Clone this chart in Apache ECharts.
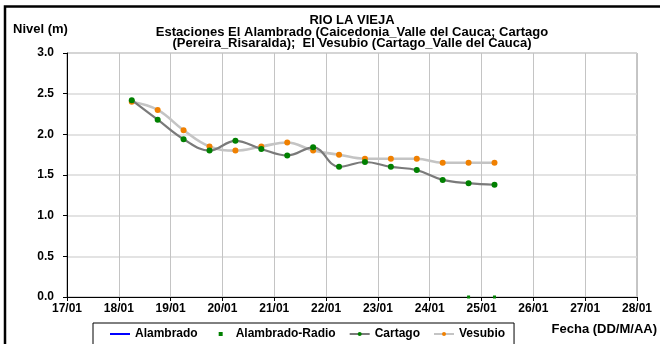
<!DOCTYPE html>
<html>
<head>
<meta charset="utf-8">
<script src="https://cdn.jsdelivr.net/npm/echarts@6/dist/echarts.min.js"></script>
<style>
  html, body { margin: 0; padding: 0; background: #fff; }
  #chart { width: 660px; height: 344px; }
</style>
</head>
<body>
<div id="chart"></div>
<script>
// fechas de las lecturas (DD/MM hh:mm)
const fechas = ['18/01 06:00', '18/01 18:00', '19/01 06:00', '19/01 18:00', '20/01 06:00',
  '20/01 18:00', '21/01 06:00', '21/01 18:00', '22/01 06:00', '22/01 18:00',
  '23/01 06:00', '23/01 18:00', '24/01 06:00', '24/01 18:00', '25/01 06:00'];
const cartago = [2.42, 2.18, 1.94, 1.80, 1.92, 1.82, 1.74, 1.84, 1.60, 1.66, 1.60, 1.56, 1.44, 1.40, 1.38];
const vesubio = [2.40, 2.30, 2.05, 1.85, 1.80, 1.85, 1.90, 1.80, 1.75, 1.70, 1.70, 1.70, 1.65, 1.65, 1.65];
const fechasRadio = ['24/01 18:00', '25/01 06:00'];
const alambradoRadio = [0, 0];
const alambrado = [];
const nivelTicks = [0, 0.5, 1, 1.5, 2, 2.5, 3];

const FONT = '"Liberation Sans", Arial, sans-serif';

// '18/01 06:00' -> 18.25 (dia del mes con fraccion)
function aDia(f) {
  const [d, h] = f.split(' ');
  const [hh, mm] = h.split(':').map(Number);
  return parseInt(d.split('/')[0], 10) + (hh + mm / 60) / 24;
}
function pares(fs, vs) {
  return fs.map((f, i) => [aDia(f), vs[i]]);
}

const chart = echarts.init(document.getElementById('chart'), null, { renderer: 'canvas' });

const options = {
  animation: false,
  backgroundColor: '#fff',
  textStyle: { fontFamily: FONT },
  grid: {
    left: 67, right: 23, top: 53, bottom: 47,
    show: true, borderColor: '#8c8c8c', borderWidth: 1
  },
  xAxis: {
    type: 'value', min: 17, max: 28, interval: 1,
    axisLine: { show: true, onZero: false, lineStyle: { color: '#000', width: 1 } },
    axisTick: { show: true, length: 4, lineStyle: { color: '#000' } },
    axisLabel: {
      color: '#000', fontWeight: 'bold', fontSize: 12, fontFamily: FONT, margin: 6,
      formatter: v => String(v).padStart(2, '0') + '/01'
    },
    splitLine: { show: true, lineStyle: { color: '#c4c4c4', width: 1 } }
  },
  yAxis: {
    type: 'value', min: nivelTicks[0], max: nivelTicks[nivelTicks.length - 1], interval: 0.5,
    axisLine: { show: true, lineStyle: { color: '#000', width: 1 } },
    axisTick: { show: true, length: 4, lineStyle: { color: '#000' } },
    axisLabel: {
      color: '#000', fontWeight: 'bold', fontSize: 12, fontFamily: FONT, margin: 13,
      formatter: v => v.toFixed(1)
    },
    splitLine: { show: true, lineStyle: { color: '#dadada', width: 1.5 } }
  },
  legend: {
    left: 93, top: 323,
    padding: [5, 9, 5, 16],
    itemGap: 13, itemWidth: 20, itemHeight: 5,
    borderColor: '#000', borderWidth: 1, borderRadius: 0,
    textStyle: { color: '#000', fontWeight: 'bold', fontSize: 12, fontFamily: FONT },
    data: [
      { name: 'Alambrado', itemStyle: { opacity: 0 } },
      'Alambrado-Radio', 'Cartago', 'Vesubio'
    ]
  },
  series: [
    {
      name: 'Alambrado', type: 'line', data: alambrado,
      showSymbol: false, color: '#0000ff',
      lineStyle: { color: '#0000ff', width: 2.5 }
    },
    {
      name: 'Alambrado-Radio', type: 'line', data: pares(fechasRadio, alambradoRadio),
      symbol: 'rect', symbolSize: 3, color: '#008000',
      itemStyle: { color: '#008000' },
      lineStyle: { width: 0, opacity: 0 }
    },
    {
      name: 'Cartago', type: 'line', data: pares(fechas, cartago),
      smooth: 0.4, symbol: 'circle', symbolSize: 6, color: '#008000',
      itemStyle: { color: '#008000' },
      lineStyle: { color: '#7a7a7a', width: 2.2 }
    },
    {
      name: 'Vesubio', type: 'line', data: pares(fechas, vesubio),
      smooth: 0.4, symbol: 'circle', symbolSize: 6, color: '#f08000',
      itemStyle: { color: '#f08000' },
      lineStyle: { color: '#c4c4c4', width: 2.6 },
      z: 1
    }
  ],
  graphic: [
    {
      type: 'rect', silent: true,
      shape: { x: 5, y: 6.5, width: 700, height: 400 },
      style: { fill: 'none', stroke: '#000', lineWidth: 2.5 }
    },
    {
      type: 'text', x: 352, y: 15, silent: true,
      style: {
        text: 'RIO LA VIEJA\nEstaciones El Alambrado (Caicedonia_Valle del Cauca; Cartago\n(Pereira_Risaralda);  El Vesubio (Cartago_Valle del Cauca)',
        align: 'center', verticalAlign: 'top', lineHeight: 11.5,
        font: 'bold 13px ' + FONT, fill: '#000'
      }
    },
    {
      type: 'text', x: 13, y: 29, silent: true,
      style: { text: 'Nivel (m)', verticalAlign: 'middle', font: 'bold 13px ' + FONT, fill: '#000' }
    },
    {
      type: 'text', x: 657, y: 329, silent: true,
      style: { text: 'Fecha (DD/M/AA)', align: 'right', verticalAlign: 'middle', font: 'bold 13px ' + FONT, fill: '#000' }
    }
  ]
};

chart.setOption(options);
</script>
</body>
</html>
